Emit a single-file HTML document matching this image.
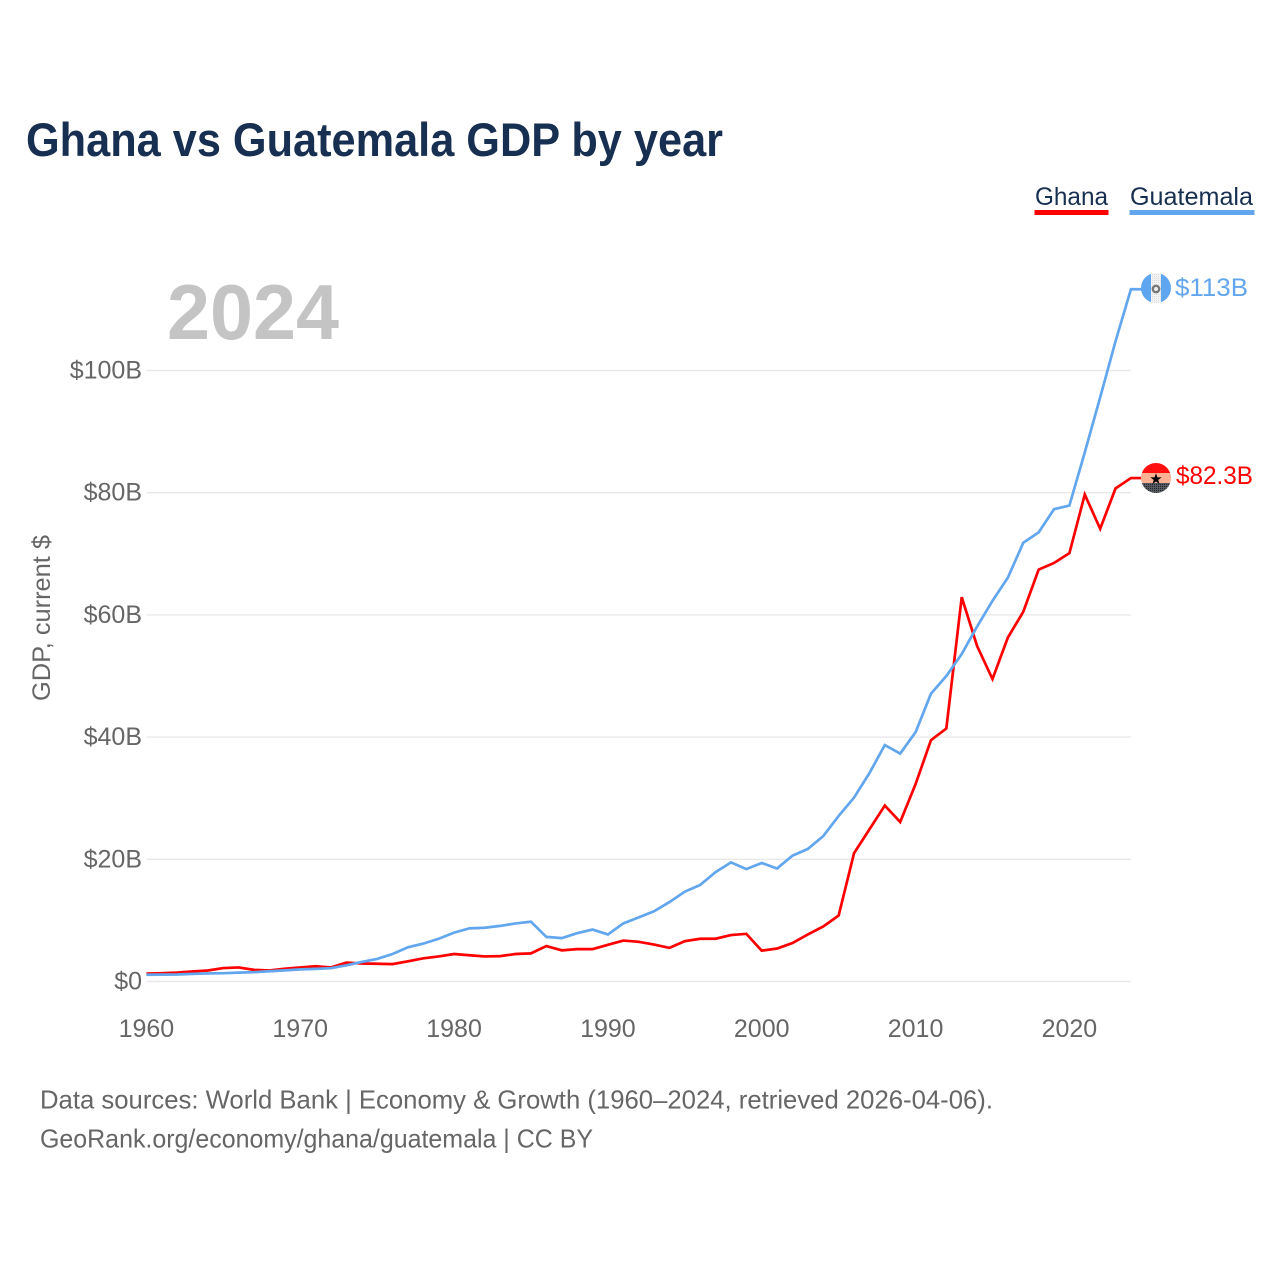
<!DOCTYPE html>
<html lang="en">
<head>
<meta charset="utf-8">
<title>Ghana vs Guatemala GDP by year</title>
<style>
html,body{margin:0;padding:0;background:#fff;}
svg{display:block;font-family:"Liberation Sans",sans-serif;}
.tick{font-size:25px;fill:#666;}
</style>
</head>
<body>
<svg id="chart" width="1280" height="1280" viewBox="0 0 1280 1280" xmlns="http://www.w3.org/2000/svg">
  <defs>
    <clipPath id="clip-gt"><circle cx="1156" cy="288" r="15"/></clipPath>
    <clipPath id="clip-gh"><circle cx="1156" cy="478" r="15"/></clipPath>
    <pattern id="dots" width="2" height="2" patternUnits="userSpaceOnUse"><rect width="2" height="2" fill="#555a60"/><rect width="1" height="1" fill="#23262a"/></pattern>
    <pattern id="dots-light" width="2" height="2" patternUnits="userSpaceOnUse"><rect width="2" height="2" fill="#f2f2f2"/><rect width="1" height="1" fill="#dcdcdc"/></pattern>
  </defs>
  <rect width="1280" height="1280" fill="#fff"/>
  <text x="26" y="156" font-size="47" font-weight="700" fill="#172f50" textLength="697" lengthAdjust="spacingAndGlyphs">Ghana vs Guatemala GDP by year</text>

  <g>
    <text x="1035" y="205" font-size="25" fill="#172f50" textLength="73" lengthAdjust="spacingAndGlyphs">Ghana</text>
    <rect x="1034.5" y="210" width="74" height="5" fill="#ff0000"/>
    <text x="1130" y="205" font-size="25" fill="#172f50" textLength="123" lengthAdjust="spacingAndGlyphs">Guatemala</text>
    <rect x="1129.5" y="210" width="125" height="5" fill="#62a6ee"/>
  </g>

  <text x="167" y="339" font-size="78" font-weight="700" fill="#c4c4c4" textLength="172" lengthAdjust="spacingAndGlyphs">2024</text>
  <text transform="translate(50,701) rotate(-90)" font-size="25" fill="#666" textLength="166" lengthAdjust="spacingAndGlyphs">GDP, current $</text>

  <g id="grid"></g>
  <g id="yticks"></g>
  <g id="xticks"></g>
  <g id="series"></g>

  <g clip-path="url(#clip-gt)">
    <rect x="1141" y="273" width="10" height="30" fill="#5ea6ef"/>
    <rect x="1151" y="273" width="10" height="30" fill="url(#dots-light)"/>
    <rect x="1161" y="273" width="10" height="30" fill="#5ea6ef"/>
    <circle cx="1156" cy="289" r="3.2" fill="none" stroke="#777" stroke-width="2.4"/>
  </g>
  <g clip-path="url(#clip-gh)">
    <rect x="1141" y="463" width="30" height="10" fill="#ff0f0f"/>
    <rect x="1141" y="473" width="30" height="10" fill="#fdb193"/>
    <rect x="1141" y="483" width="30" height="10" fill="url(#dots)"/>
    <text x="1156" y="484" font-size="15" text-anchor="middle" fill="#000" font-family="DejaVu Sans, sans-serif">★</text>
  </g>
  <text id="value-guatemala" x="1175" y="296" font-size="25" fill="#62a6ee" textLength="73" lengthAdjust="spacingAndGlyphs">$113B</text>
  <text id="value-ghana" x="1176" y="484" font-size="25" fill="#ff0000" textLength="77" lengthAdjust="spacingAndGlyphs">$82.3B</text>

  <text x="40" y="1108.5" font-size="26" fill="#666" textLength="953" lengthAdjust="spacingAndGlyphs">Data sources: World Bank | Economy &amp; Growth (1960–2024, retrieved 2026-04-06).</text>
  <text x="40" y="1147.5" font-size="26" fill="#666" textLength="553" lengthAdjust="spacingAndGlyphs">GeoRank.org/economy/ghana/guatemala | CC BY</text>
</svg>
<script>
const startYear = 1960;
const xTickYears = [1960, 1970, 1980, 1990, 2000, 2010, 2020];
const yTickValues = [0, 20, 40, 60, 80, 100];
const yTickLabels = ["$0", "$20B", "$40B", "$60B", "$80B", "$100B"];
const ghanaGdp = [1.3,1.35,1.45,1.65,1.8,2.2,2.3,1.9,1.8,2.1,2.3,2.5,2.3,3.1,2.95,2.9,2.85,3.3,3.8,4.1,4.5,4.3,4.1,4.15,4.5,4.6,5.8,5.1,5.3,5.3,6.0,6.7,6.5,6.05,5.5,6.6,7.0,7.0,7.6,7.8,5.05,5.4,6.3,7.7,9.0,10.8,21.0,24.9,28.8,26.1,32.3,39.5,41.4,62.9,54.9,49.5,56.3,60.5,67.4,68.5,70.1,79.7,74.1,80.7,82.4];
const guatemalaGdp = [1.1,1.12,1.15,1.25,1.32,1.36,1.45,1.52,1.68,1.82,1.98,2.06,2.18,2.65,3.2,3.7,4.5,5.6,6.2,7.0,8.0,8.7,8.8,9.1,9.5,9.8,7.3,7.1,7.9,8.5,7.7,9.5,10.5,11.5,13.0,14.7,15.8,17.9,19.5,18.4,19.4,18.5,20.6,21.7,23.8,27.1,30.1,34.1,38.7,37.3,40.8,47.1,50.0,53.6,58.1,62.3,66.1,71.8,73.5,77.3,77.9,86.6,95.6,104.8,113.3];

const NS = "http://www.w3.org/2000/svg";
function xScale(year) { return 146.4 + (year - 1960) * (1069.4 - 146.4) / 60; }
function yScale(v) { return 981.5 - v * (981.5 - 370.5) / 100; }
function mk(tag, attrs, parent) {
  const el = document.createElementNS(NS, tag);
  for (const k in attrs) el.setAttribute(k, attrs[k]);
  parent.appendChild(el);
  return el;
}

const gridG = document.getElementById("grid");
const yG = document.getElementById("yticks");
const xG = document.getElementById("xticks");
const seriesG = document.getElementById("series");

yTickValues.forEach(function (v, i) {
  const line = mk("line", {x1: 147, x2: 1131, y1: yScale(v), y2: yScale(v), stroke: "#e9e9e9", "stroke-width": 1.4}, gridG);
  
  
  const t = mk("text", {x: 142, y: yScale(v) + 8, "text-anchor": "end", "class": "tick"}, yG);
  
  
  t.textContent = yTickLabels[i];
});

xTickYears.forEach(function (yr) {
  const t = mk("text", {x: xScale(yr), y: 1037, "text-anchor": "middle", "class": "tick"}, xG);
  
  
  t.textContent = yr;
});

function drawSeries(values, color, flagX) {
  const pts = values.map(function (v, i) { return xScale(startYear + i).toFixed(2) + "," + yScale(v).toFixed(2); });
  const last = values[values.length - 1];
  pts.push(flagX + "," + yScale(last).toFixed(2));
  return mk("polyline", {points: pts.join(" "), fill: "none", stroke: color, "stroke-width": 2.7, "stroke-linejoin": "miter"}, seriesG);
}
const ghanaLine = drawSeries(ghanaGdp, "#ff0000", 1142);


const guatemalaLine = drawSeries(guatemalaGdp, "#62a6ee", 1142);


</script>
</body>
</html>
